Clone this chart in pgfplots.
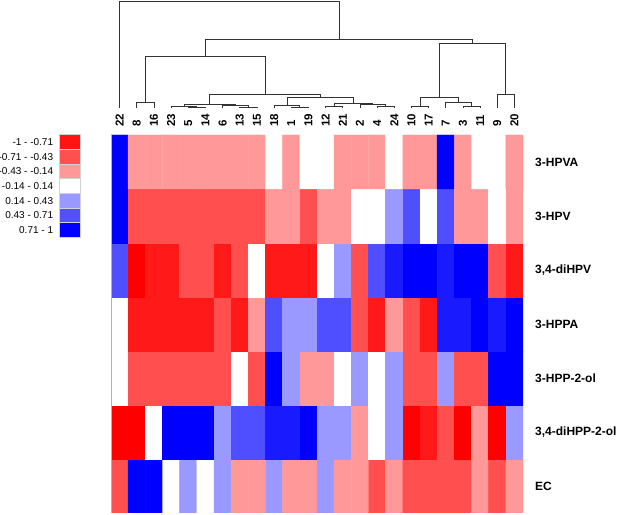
\documentclass[border=0pt]{standalone}
\usepackage{pgfplots}
\pgfplotsset{compat=1.18}
\usepackage{fontspec}
\setmainfont{Liberation Sans}
\definecolor{cR1}{RGB}{255,20,20}
\definecolor{cR2}{RGB}{255,80,80}
\definecolor{cR3}{RGB}{255,153,153}
\definecolor{cB3}{RGB}{153,153,255}
\definecolor{cB2}{RGB}{80,80,255}
\definecolor{cB1}{RGB}{0,0,255}
\pgfplotsset{colormap={rwb}{rgb255=(255,0,0) rgb255=(255,255,255) rgb255=(0,0,255)}}
\tikzset{dend/.style={black!80, line width=0.7bp, mark=none},
  key/.style={draw=gray!35, line width=0.9bp, mark=none}}
\begin{document}
\begin{tikzpicture}
% heatmap
\begin{axis}[at={(0,0)}, anchor=south west, scale only axis, width=412bp, height=378bp,
  xmin=-0.5, xmax=23.5, ymin=-0.5, ymax=6.5, enlargelimits=false,
  axis line style={draw=none}, major tick length=0pt,
  colormap name=rwb, point meta min=-1, point meta max=1,
  xtick={0,...,23},
  xticklabels={22,8,16,23,5,14,6,13,15,18,1,19,12,21,2,4,24,10,17,7,3,11,9,20},
  xticklabel pos=right, xticklabel shift=8bp,
  xticklabel style={rotate=90, anchor=west, inner sep=0pt, font=\fontsize{11.5bp}{13bp}\selectfont\bfseries},
  ytick={0,...,6},
  yticklabels={EC,{3,4-diHPP-2-ol},3-HPP-2-ol,3-HPPA,{3,4-diHPV},3-HPV,3-HPVA},
  yticklabel pos=right, yticklabel shift=12bp,
  yticklabel style={anchor=west, inner sep=0pt, font=\fontsize{12bp}{14bp}\selectfont\bfseries},
]
\addplot[matrix plot*, mesh/cols=24, point meta=explicit] coordinates {
(0,0)[-0.69] (1,0)[1] (2,0)[1] (3,0)[0] (4,0)[0.4] (5,0)[0] (6,0)[0.4] (7,0)[-0.4] (8,0)[-0.4] (9,0)[0.4] (10,0)[-0.4] (11,0)[-0.4] (12,0)[0.4] (13,0)[-0.4] (14,0)[-0.4] (15,0)[-0.69] (16,0)[-0.4] (17,0)[-0.69] (18,0)[-0.69] (19,0)[-0.69] (20,0)[-0.69] (21,0)[-0.4] (22,0)[-0.69] (23,0)[-0.4]
(0,1)[-1] (1,1)[-1] (2,1)[0] (3,1)[1] (4,1)[1] (5,1)[1] (6,1)[0.4] (7,1)[0.69] (8,1)[0.69] (9,1)[0.9] (10,1)[0.9] (11,1)[1] (12,1)[0.4] (13,1)[0.4] (14,1)[-0.4] (15,1)[0] (16,1)[0.4] (17,1)[-1] (18,1)[-0.9] (19,1)[-0.69] (20,1)[-1] (21,1)[-0.4] (22,1)[-1] (23,1)[0.4]
(0,2)[0] (1,2)[-0.69] (2,2)[-0.69] (3,2)[-0.69] (4,2)[-0.69] (5,2)[-0.69] (6,2)[-0.69] (7,2)[0] (8,2)[-0.69] (9,2)[1] (10,2)[0.4] (11,2)[-0.4] (12,2)[-0.4] (13,2)[0] (14,2)[0.4] (15,2)[0] (16,2)[0.4] (17,2)[-0.69] (18,2)[-0.69] (19,2)[0.4] (20,2)[-0.69] (21,2)[-0.69] (22,2)[1] (23,2)[1]
(0,3)[0] (1,3)[-0.9] (2,3)[-0.9] (3,3)[-0.9] (4,3)[-0.9] (5,3)[-0.9] (6,3)[-0.69] (7,3)[-0.9] (8,3)[-0.4] (9,3)[0.69] (10,3)[0.4] (11,3)[0.4] (12,3)[0.69] (13,3)[0.69] (14,3)[-0.69] (15,3)[-0.9] (16,3)[-0.4] (17,3)[-0.69] (18,3)[-0.9] (19,3)[0.9] (20,3)[0.9] (21,3)[1] (22,3)[0.9] (23,3)[1]
(0,4)[0.69] (1,4)[-1] (2,4)[-0.9] (3,4)[-0.9] (4,4)[-0.69] (5,4)[-0.69] (6,4)[-0.9] (7,4)[-0.69] (8,4)[0] (9,4)[-0.9] (10,4)[-0.9] (11,4)[-0.9] (12,4)[0] (13,4)[0.4] (14,4)[-0.69] (15,4)[0.69] (16,4)[0.9] (17,4)[1] (18,4)[1] (19,4)[0.9] (20,4)[1] (21,4)[1] (22,4)[-0.69] (23,4)[-0.9]
(0,5)[1] (1,5)[-0.69] (2,5)[-0.69] (3,5)[-0.69] (4,5)[-0.69] (5,5)[-0.69] (6,5)[-0.69] (7,5)[-0.69] (8,5)[-0.69] (9,5)[-0.4] (10,5)[-0.4] (11,5)[-0.69] (12,5)[-0.4] (13,5)[-0.4] (14,5)[0] (15,5)[0] (16,5)[0.4] (17,5)[0.69] (18,5)[0] (19,5)[0.69] (20,5)[-0.4] (21,5)[-0.4] (22,5)[0] (23,5)[-0.4]
(0,6)[1] (1,6)[-0.4] (2,6)[-0.4] (3,6)[-0.4] (4,6)[-0.4] (5,6)[-0.4] (6,6)[-0.4] (7,6)[-0.4] (8,6)[-0.4] (9,6)[0] (10,6)[-0.4] (11,6)[0] (12,6)[0] (13,6)[-0.4] (14,6)[-0.4] (15,6)[-0.4] (16,6)[0] (17,6)[-0.4] (18,6)[-0.4] (19,6)[1] (20,6)[-0.4] (21,6)[0] (22,6)[0] (23,6)[-0.4]
};
\end{axis}
% left grey axis line with ticks
\begin{axis}[at={(0,0)}, anchor=south west, scale only axis, width=412bp, height=378bp,
  xmin=-0.5, xmax=23.5, ymin=-0.5, ymax=6.5,
  axis x line=none, axis y line*=left,
  axis line style={gray!60, line width=0.6bp, -},
  ytick=\empty, minor ytick={-0.5,0.5,...,6.5},
  tick align=outside, minor tick length=3bp, minor tick style={gray!60, line width=0.6bp}]
\addplot[draw=none] coordinates {(0,0)};
\end{axis}
% dendrogram
\begin{axis}[at={(0,405bp)}, anchor=south west, scale only axis, width=412bp, height=107bp,
  xmin=-0.5, xmax=23.5, ymin=0, ymax=107, hide axis, clip=false]
\addplot[dend] coordinates {(4,0) (4,1) (5,1) (5,0)};
\addplot[dend] coordinates {(3,0) (3,2) (4.5,2) (4.5,1)};
\addplot[dend] coordinates {(7,0) (7,1) (8,1) (8,0)};
\addplot[dend] coordinates {(6,0) (6,2.5) (7.5,2.5) (7.5,1)};
\addplot[dend] coordinates {(3.75,2) (3.75,4) (6.75,4) (6.75,2.5)};
\addplot[dend] coordinates {(10,0) (10,1) (11,1) (11,0)};
\addplot[dend] coordinates {(9,0) (9,3) (10.5,3) (10.5,1)};
\addplot[dend] coordinates {(12,0) (12,1.5) (13,1.5) (13,0)};
\addplot[dend] coordinates {(15,0) (15,2) (16,2) (16,0)};
\addplot[dend] coordinates {(14,0) (14,3.5) (15.5,3.5) (15.5,2)};
\addplot[dend] coordinates {(12.5,1.5) (12.5,5) (14.75,5) (14.75,3.5)};
\addplot[dend] coordinates {(9.75,3) (9.75,11) (13.625,11) (13.625,5)};
\addplot[dend] coordinates {(5.25,4) (5.25,14) (11.6875,14) (11.6875,11)};
\addplot[dend] coordinates {(1,0) (1,6) (2,6) (2,0)};
\addplot[dend] coordinates {(1.5,6) (1.5,52) (8.46875,52) (8.46875,14)};
\addplot[dend] coordinates {(17,0) (17,2) (18,2) (18,0)};
\addplot[dend] coordinates {(20,0) (20,2) (21,2) (21,0)};
\addplot[dend] coordinates {(19,0) (19,5.3) (20.5,5.3) (20.5,2)};
\addplot[dend] coordinates {(17.5,2) (17.5,10.5) (19.75,10.5) (19.75,5.3)};
\addplot[dend] coordinates {(22,0) (22,13.5) (23,13.5) (23,0)};
\addplot[dend] coordinates {(18.625,10.5) (18.625,64.3) (22.5,64.3) (22.5,13.5)};
\addplot[dend] coordinates {(4.984,52) (4.984,69) (20.5625,69) (20.5625,64.3)};
\addplot[dend] coordinates {(0,0) (0,107) (12.773,107) (12.773,69)};
\end{axis}
% colour key
\begin{axis}[at={(-51.7bp,275.7bp)}, anchor=south west, scale only axis, width=21bp, height=102.6bp,
  xmin=0, xmax=1, ymin=-0.5, ymax=6.5, clip=false,
  axis line style={draw=none}, xtick=\empty, major tick length=0pt,
  ytick={0,...,6},
  yticklabels={0.71 - 1,0.43 - 0.71,0.14 - 0.43,-0.14 - 0.14,-0.43 - -0.14,-0.71 - -0.43,-1 - -0.71},
  yticklabel shift=6bp,
  yticklabel style={anchor=east, inner sep=0pt, font=\fontsize{10bp}{12bp}\selectfont}]
\addplot[key, fill=cB1] coordinates {(0,-0.5) (1,-0.5) (1,0.5) (0,0.5) (0,-0.5)};
\addplot[key, fill=cB2] coordinates {(0,0.5) (1,0.5) (1,1.5) (0,1.5) (0,0.5)};
\addplot[key, fill=cB3] coordinates {(0,1.5) (1,1.5) (1,2.5) (0,2.5) (0,1.5)};
\addplot[key, fill=white] coordinates {(0,2.5) (1,2.5) (1,3.5) (0,3.5) (0,2.5)};
\addplot[key, fill=cR3] coordinates {(0,3.5) (1,3.5) (1,4.5) (0,4.5) (0,3.5)};
\addplot[key, fill=cR2] coordinates {(0,4.5) (1,4.5) (1,5.5) (0,5.5) (0,4.5)};
\addplot[key, fill=cR1] coordinates {(0,5.5) (1,5.5) (1,6.5) (0,6.5) (0,5.5)};
\end{axis}
\pgfresetboundingbox
\path[use as bounding box] (-111bp,-2bp) rectangle (514bp,513bp);
\end{tikzpicture}
\end{document}
